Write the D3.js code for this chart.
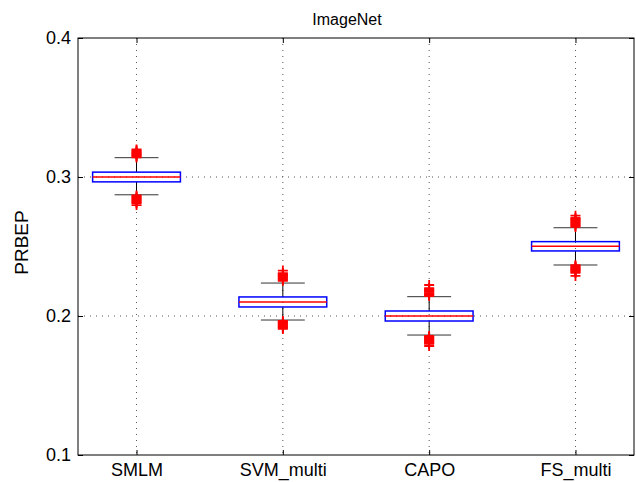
<!DOCTYPE html>
<html>
<head>
<meta charset="utf-8">
<script src="https://cdn.jsdelivr.net/npm/d3@7"></script>
<style>
  body { margin: 0; background: #fff; }
  text { font-family: "Liberation Sans", Arial, sans-serif; fill: #000; }
</style>
</head>
<body>
<div id="chart"></div>
<script>
const categories = ['SMLM', 'SVM_multi', 'CAPO', 'FS_multi'];
const medians = [0.3000, 0.2101, 0.2000, 0.2501];
const q1 = [0.2965, 0.2065, 0.1964, 0.2468];
const q3 = [0.3035, 0.2137, 0.2036, 0.2535];
const whiskerLow = [0.2872, 0.1971, 0.1863, 0.2367];
const whiskerHigh = [0.3139, 0.2237, 0.2139, 0.2635];
const outliersHigh = [
    [0.3141, 0.3148, 0.3155, 0.3162, 0.3169, 0.3176, 0.3183, 0.3190, 0.3198],
    [0.2253, 0.2260, 0.2267, 0.2274, 0.2281, 0.2288, 0.2295, 0.2302, 0.2309, 0.2327],
    [0.2144, 0.2151, 0.2158, 0.2165, 0.2173, 0.2180, 0.2187, 0.2194, 0.2201, 0.2223],
    [0.2641, 0.2648, 0.2656, 0.2663, 0.2670, 0.2677, 0.2684, 0.2691, 0.2698, 0.2705, 0.2722]
];
const outliersLow = [
    [0.2867, 0.2860, 0.2853, 0.2846, 0.2839, 0.2832, 0.2825, 0.2818, 0.2812, 0.2798],
    [0.1964, 0.1957, 0.1950, 0.1943, 0.1936, 0.1928, 0.1921, 0.1914, 0.1907],
    [0.1856, 0.1849, 0.1842, 0.1835, 0.1828, 0.1820, 0.1813, 0.1806, 0.1799, 0.1784],
    [0.2366, 0.2359, 0.2352, 0.2345, 0.2338, 0.2331, 0.2324, 0.2317, 0.2310, 0.2288]
];
const yTicks = [0.1, 0.2, 0.3, 0.4];

const data = categories.map((c, i) => ({
    name: c, pos: i + 1,
    med: medians[i], q1: q1[i], q3: q3[i],
    lo: whiskerLow[i], hi: whiskerHigh[i],
    out: outliersHigh[i].concat(outliersLow[i])
}));

const margin = {top: 38, right: 2, bottom: 27, left: 78};
const width = 636 - margin.left - margin.right,
    height = 482 - margin.top - margin.bottom;

const svg = d3.select('#chart').append('svg')
    .attr('width', 636)
    .attr('height', 482)
    .append('g')
    .attr('transform', `translate(${margin.left}, ${margin.top})`);

const xScale = d3.scaleLinear()
    .domain([0.6, 4.4])
    .range([0, width]);

const yScale = d3.scaleLinear()
    .domain([0.1, 0.4])
    .range([height, 0]);

// dotted grid
svg.append('g')
    .attr('class', 'grid')
    .selectAll('line.h')
    .data(yTicks.slice(1, -1))
    .enter().append('line')
    .attr('x1', 0).attr('x2', width)
    .attr('y1', d => yScale(d)).attr('y2', d => yScale(d));
svg.select('g.grid')
    .selectAll('line.v')
    .data(data)
    .enter().append('line')
    .attr('x1', d => xScale(d.pos)).attr('x2', d => xScale(d.pos))
    .attr('y1', 0).attr('y2', height);
svg.selectAll('g.grid line')
    .attr('stroke', '#555')
    .attr('stroke-width', 1)
    .attr('stroke-dasharray', '1,5');

// axes with inward ticks
const yAxis = d3.axisLeft(yScale)
    .tickValues(yTicks)
    .tickFormat(d3.format('.1f'))
    .tickSizeInner(-5)
    .tickSizeOuter(0)
    .tickPadding(7);

const yAxisR = d3.axisRight(yScale)
    .tickValues(yTicks)
    .tickFormat('')
    .tickSizeInner(-5)
    .tickSizeOuter(0);

const xAxis = d3.axisBottom(xScale)
    .tickValues(data.map(d => d.pos))
    .tickFormat((d, i) => categories[i])
    .tickSizeInner(-5)
    .tickSizeOuter(0)
    .tickPadding(8);

const xAxisT = d3.axisTop(xScale)
    .tickValues(data.map(d => d.pos))
    .tickFormat('')
    .tickSizeInner(-5)
    .tickSizeOuter(0);

const yg = svg.append('g').attr('class', 'axis y-axis').call(yAxis);
svg.append('g').attr('transform', `translate(${width}, 0)`).call(yAxisR);
const xg = svg.append('g').attr('class', 'axis x-axis')
    .attr('transform', `translate(0, ${height})`).call(xAxis);
svg.append('g').call(xAxisT);

svg.selectAll('.domain').remove();
svg.selectAll('.tick line').attr('stroke', '#000');
yg.selectAll('text').style('font-size', '18px');
xg.selectAll('text').style('font-size', '18px');

svg.append('rect')
    .attr('width', width)
    .attr('height', height)
    .attr('fill', 'none')
    .attr('stroke', '#000')
    .attr('stroke-width', 1);

// boxes
const boxHalf = xScale(1.3) - xScale(1);
const capHalf = xScale(1.15) - xScale(1);

const boxes = svg.selectAll('g.box')
    .data(data)
    .enter().append('g')
    .attr('class', 'box');

boxes.append('line')
    .attr('x1', d => xScale(d.pos)).attr('x2', d => xScale(d.pos))
    .attr('y1', d => yScale(d.hi)).attr('y2', d => yScale(d.q3))
    .attr('stroke', '#000');
boxes.append('line')
    .attr('x1', d => xScale(d.pos)).attr('x2', d => xScale(d.pos))
    .attr('y1', d => yScale(d.q1)).attr('y2', d => yScale(d.lo))
    .attr('stroke', '#000');
boxes.append('line')
    .attr('x1', d => xScale(d.pos) - capHalf).attr('x2', d => xScale(d.pos) + capHalf)
    .attr('y1', d => yScale(d.hi)).attr('y2', d => yScale(d.hi))
    .attr('stroke', '#333');
boxes.append('line')
    .attr('x1', d => xScale(d.pos) - capHalf).attr('x2', d => xScale(d.pos) + capHalf)
    .attr('y1', d => yScale(d.lo)).attr('y2', d => yScale(d.lo))
    .attr('stroke', '#333');

boxes.append('rect')
    .attr('x', d => xScale(d.pos) - boxHalf)
    .attr('width', 2 * boxHalf)
    .attr('y', d => yScale(d.q3))
    .attr('height', d => yScale(d.q1) - yScale(d.q3))
    .attr('fill', 'none')
    .attr('stroke', '#0000ff')
    .attr('stroke-width', 1.5);

boxes.append('line')
    .attr('x1', d => xScale(d.pos) - boxHalf).attr('x2', d => xScale(d.pos) + boxHalf)
    .attr('y1', d => yScale(d.med)).attr('y2', d => yScale(d.med))
    .attr('stroke', '#ff0000')
    .attr('stroke-width', 1.5);

// outliers as red '+'
const arm = 5;
boxes.selectAll('path.out')
    .data(d => d.out.map(v => ({x: d.pos, v: v})))
    .enter().append('path')
    .attr('class', 'out')
    .attr('d', o => {
        const cx = xScale(o.x), cy = yScale(o.v);
        return `M${cx - arm},${cy}H${cx + arm}M${cx},${cy - arm}V${cy + arm}`;
    })
    .attr('stroke', '#ff0000')
    .attr('stroke-width', 1.8)
    .attr('fill', 'none');

// labels
svg.append('text')
    .attr('x', width / 2 - 9)
    .attr('y', -13)
    .attr('text-anchor', 'middle')
    .style('font-size', '16px')
    .text('ImageNet');

svg.append('text')
    .attr('transform', `translate(${28 - margin.left}, ${yScale(0.25) - 4}) rotate(-90)`)
    .attr('text-anchor', 'middle')
    .style('font-size', '19px')
    .text('PRBEP');
</script>
</body>
</html>
